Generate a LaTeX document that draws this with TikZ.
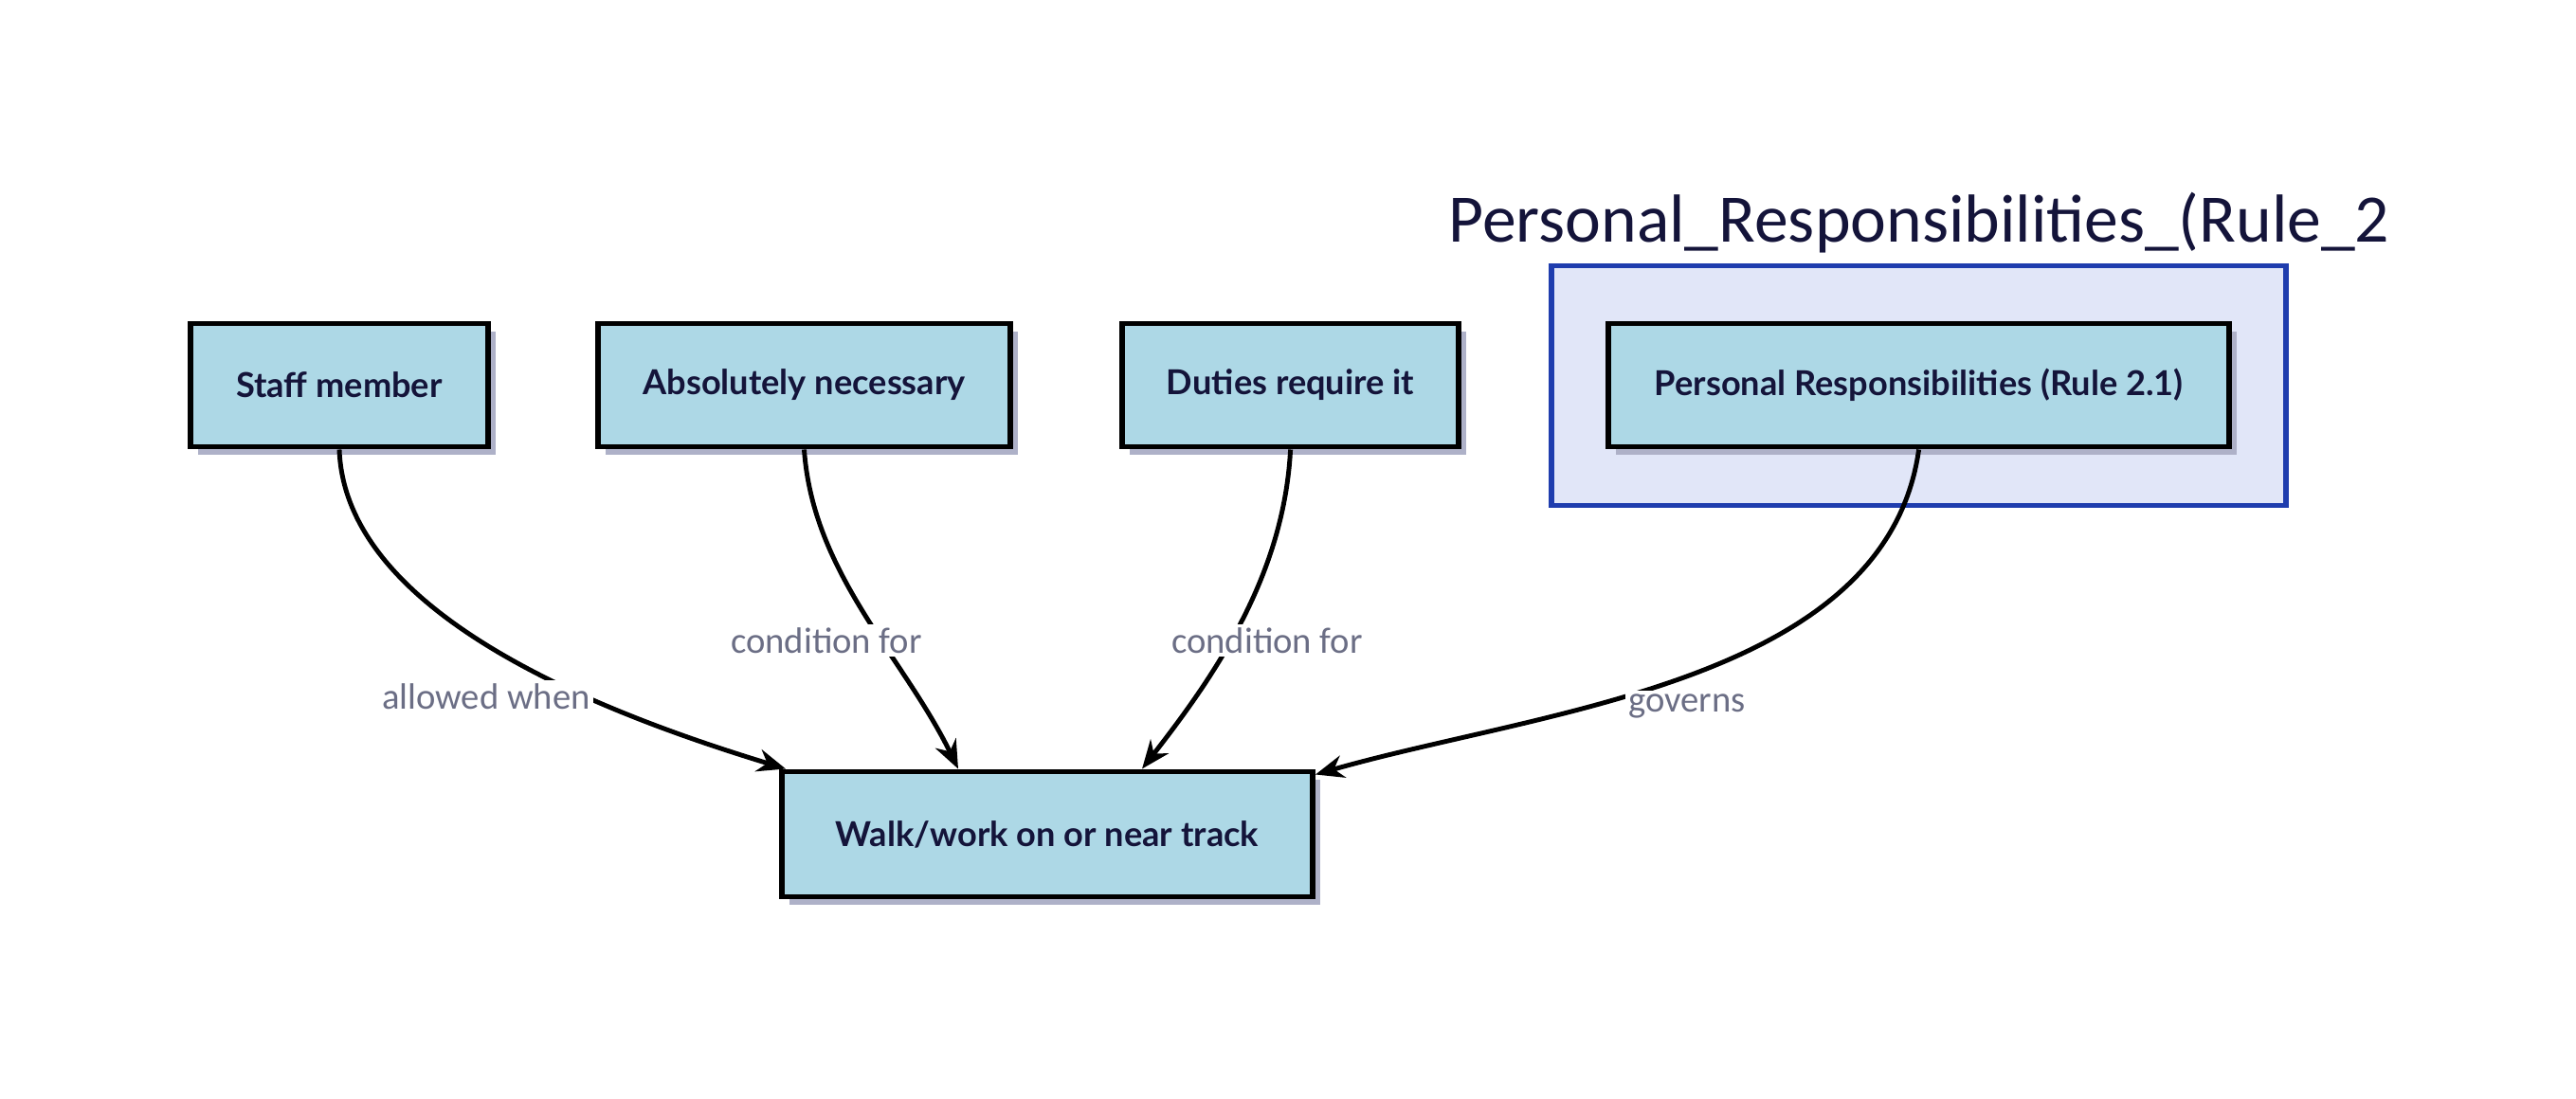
\documentclass[tikz,border=0pt]{standalone}
\usepackage{fontspec}
\setmainfont{Carlito}
\newfontfamily\boxfont{Lato}
\usepackage{tikz}
\usetikzlibrary{arrows.meta, positioning, shadows}
\definecolor{boxcolor}{HTML}{ADD8E6}
\definecolor{shadowcolor}{HTML}{AEB1C8}
\definecolor{clustercolor}{HTML}{E1E6F8}
\definecolor{clusterline}{HTML}{1F3DAE}
\definecolor{inkcolor}{HTML}{14143A}
\definecolor{labelcolor}{HTML}{6B6E85}

\begin{document}
\begin{tikzpicture}[
    concept/.style={draw=black, line width=1.7pt, fill=boxcolor, minimum height=1.3cm, text=inkcolor, font=\boxfont\bfseries\fontsize{10.3}{12}\selectfont, drop shadow={shadow xshift=0.08cm, shadow yshift=-0.09cm, fill=shadowcolor, opacity=1}},
    cluster/.style={draw=clusterline, fill=clustercolor, line width=1.7pt},
    relation/.style={-{Stealth[length=0.3cm, width=0.24cm]}, line width=1.4pt},
    edgelabel/.style={fill=white, text=labelcolor, font=\fontsize{11}{13}\selectfont, inner sep=1pt}
]
    \useasboundingbox (0, 0) rectangle (27.18, 11.60);

    % Cluster
    \node[cluster, minimum width=7.75cm, minimum height=2.53cm] (rule2) at (20.24, 7.53) {};
    \node[text=inkcolor, font=\fontsize{20.4}{24}\selectfont] (rule2title) at (20.25, 9.25) {Personal\_Responsibilities\_(Rule\_2};

    % Concepts
    \node[concept, minimum width=3.14cm] (staff) at (3.58, 7.535) {Staff member};
    \node[concept, minimum width=4.35cm] (necessary) at (8.485, 7.535) {Absolutely necessary};
    \node[concept, minimum width=3.55cm] (duties) at (13.616, 7.535) {Duties require it};
    \node[concept, minimum width=6.55cm] (personal) at (20.246, 7.535) {Personal Responsibilities (Rule 2.1)};
    \node[concept, minimum width=5.60cm, minimum height=1.32cm] (track) at (11.05, 2.795) {Walk/work on or near track};

    % Relations
    \draw[relation] (staff.south) to[out=-88, in=163, looseness=0.8] ([xshift=0.07cm]track.north west);
    \draw[relation] (necessary.south) to[out=-86, in=116, looseness=0.9] ([xshift=-0.94cm]track.north);
    \draw[relation] (duties.south) to[out=-93, in=52, looseness=0.9] ([xshift=1.0cm]track.north);
    \draw[relation] (personal.south) to[out=-98, in=16, looseness=0.88] ([yshift=-0.06cm]track.north east);

    % Labels
    \node[edgelabel] (allowed) at (5.13, 4.25) {allowed when};
    \node[edgelabel] (cond1) at (8.72, 4.84) {condition for};
    \node[edgelabel] (cond2) at (13.37, 4.84) {condition for};
    \node[edgelabel] (governs) at (17.80, 4.15) {governs};
\end{tikzpicture}
\end{document}
